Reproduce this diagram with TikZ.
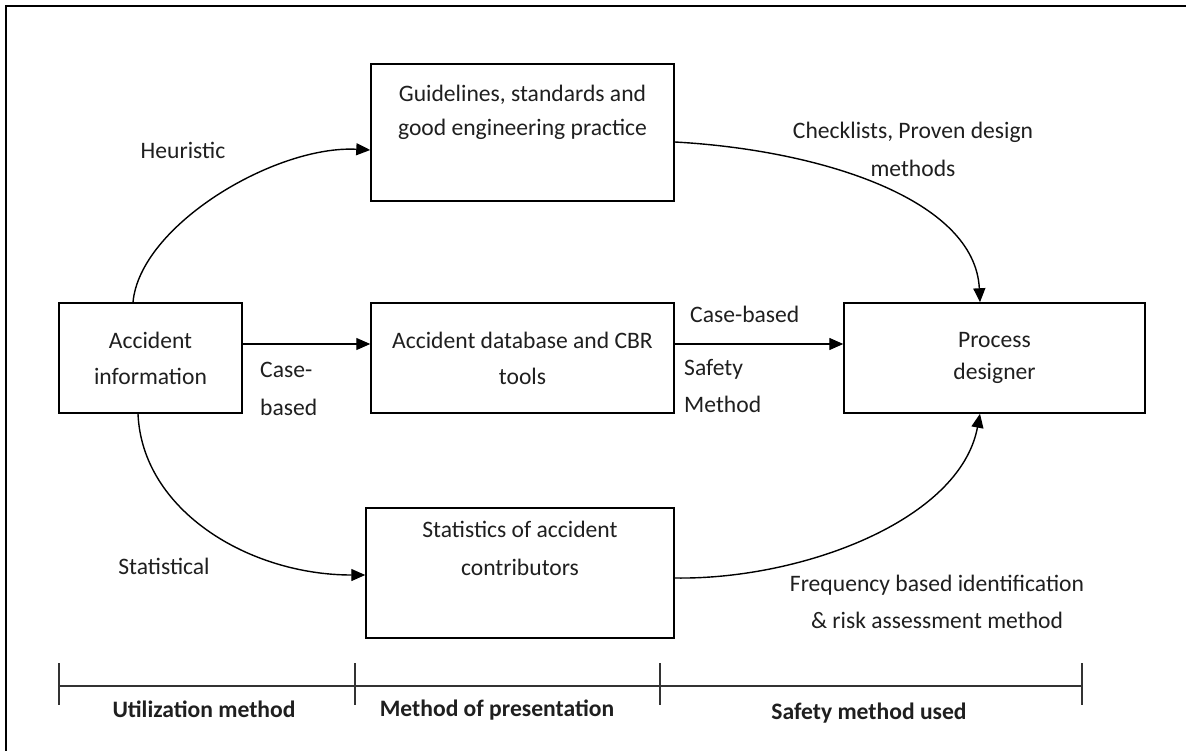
\documentclass[tikz,border=0pt]{standalone}
\usepackage{fontspec}
\setmainfont{Carlito}
\usetikzlibrary{arrows.meta,calc}
\begin{document}
\begin{tikzpicture}[x=1pt,y=1pt,
  txt/.style={font=\fontsize{23.6}{36}\selectfont, text=black!88, inner sep=0pt},
  boxnode/.style={draw, line width=1.5pt, txt, align=center},
  flow/.style={line width=1.4pt, -{Triangle[length=14pt,width=12pt]}},
  lbl/.style={txt},
  bold/.style={txt, font=\fontsize{23.6}{36}\selectfont\bfseries},
  scalebar/.style={line width=1.8pt, draw=black!80}]
\useasboundingbox (0,0) rectangle (1186,-751);
\draw[line width=2.8pt] (6,-751) -- (6,-6) -- (1186,-6);

\node[boxnode, minimum width=183pt, minimum height=110pt] (acc) at (150.5,-358) {Accident\\information};
\node[boxnode, minimum width=303pt, minimum height=137pt] (gui) at (522.5,-132.5)
  {Guidelines, standards and\\[-2pt]good engineering practice\\[-2pt]\strut};
\node[boxnode, minimum width=303pt, minimum height=110pt] (db) at (522.5,-358) {Accident database and CBR\\tools};
\node[boxnode, minimum width=308pt, minimum height=130pt] (stat) at (520,-573)
  {Statistics of accident\\[2pt]contributors\\[2pt]\strut};
\node[boxnode, minimum width=301pt, minimum height=110pt] (pd) at (994.5,-358)
  {Process\\[-4pt]designer};

% connectors
\draw[flow] ($(acc.north)+(-17.5,0)$) .. controls +(7,77) and +(-95,5) .. ($(gui.west)+(0,-17.5)$);
\draw[flow] ($(gui.east)+(0,-9.5)$) .. controls +(146,-8) and +(-5,103) .. ($(pd.north)+(-14.5,0)$);
\draw[flow] ($(acc.east)+(0,14)$) -- ($(db.west)+(0,14)$);
\draw[flow] ($(db.east)+(0,14)$) -- ($(pd.west)+(0,14)$);
\draw[flow] ($(acc.south)+(-12.5,0)$) .. controls +(4,-97) and +(-116,0) .. ($(stat.west)+(0,-2)$);
\draw[flow] ($(stat.east)+(0,-5)$) .. controls +(126,-2) and +(-20,-107) .. ($(pd.south)+(-14.5,0)$);

% labels
\node[lbl] (lheur) at (183,-150) {Heuristic};
\node[lbl, align=center] (lcheck) at (913,-149) {Checklists, Proven design\\[2pt]methods};
\node[lbl, align=left, anchor=west] (lcase1) at (260,-389) {Case-\\[2pt]based};
\node[lbl, anchor=west] (lcase2) at (690,-314) {Case-based};
\node[lbl, align=left, anchor=west] (lsafe) at (684,-385.5) {Safety\\[1pt]Method};
\node[lbl] (lstat) at (164,-566) {Statistical};
\node[lbl, align=center] (lfreq) at (937,-601.5) {Frequency based identification\\[1pt]\& risk assessment method};

% scale bar
\coordinate (t1) at (59,-686);
\coordinate (t2) at (355,-686);
\coordinate (t3) at (660,-686);
\coordinate (t4) at (1082,-686);
\draw[scalebar] (t1) -- (t4);
\foreach \t in {t1,t2,t3,t4} \draw[line width=1.5pt, draw=black!80] ($(\t)+(0,23)$) -- ($(\t)+(0,-19)$);
\node[bold] (u1) at (204,-709) {Utilization method};
\node[bold] (u2) at (497,-710) {Method of presentation};
\node[bold] (u3) at (869,-713) {Safety method used};
\end{tikzpicture}
\end{document}
